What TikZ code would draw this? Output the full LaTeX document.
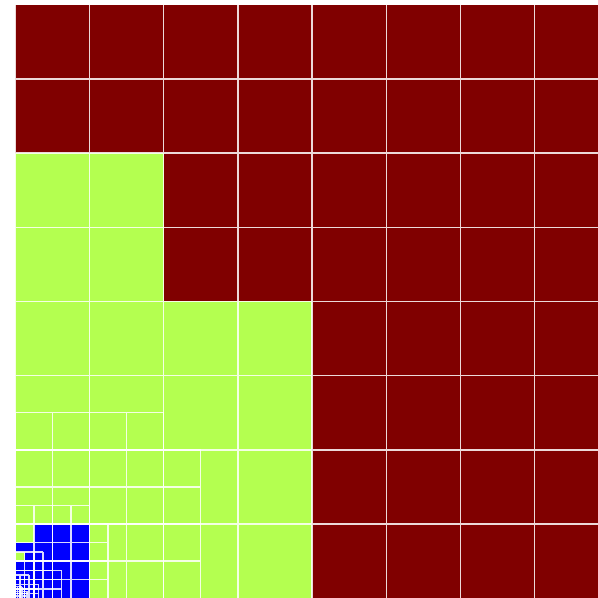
\documentclass[tikz,border=0pt]{standalone}
\definecolor{cellred}{RGB}{128,0,0}
\definecolor{cellgreen}{RGB}{180,255,80}
\definecolor{cellblue}{RGB}{0,0,255}
\begin{document}
\begin{tikzpicture}[x=1mm,y=1mm,
  gl/.style={draw=white, draw opacity=0.85, line width=0.45pt}]
\useasboundingbox (-1.644,0.13) rectangle (62.83,64.5);
\fill[white] (-1.644,0.13) rectangle (62.83,64.5);
\clip (-1.644,0.13) rectangle (62.83,64.5);
% colour regions
\fill[cellred] (0,0) rectangle (64,64);
\fill[cellgreen] (0,0) rectangle (32,32);
\fill[cellgreen] (0,32) rectangle (16,48);
\fill[cellblue] (0,0) rectangle (8,8);
\fill[cellgreen] (0,6) rectangle (2,8);
\fill[cellgreen] (0,4) rectangle (1,5);
% level 0
\draw[gl,step=8] (0,0) grid (64,64);
% level 1
\draw[gl,step=4] (0,0) grid (20.01,16.01);
\draw[gl,step=4] (0,16) grid (16.01,20.01);
% level 2
\draw[gl,step=2] (0,0) grid (10.01,8.01);
\draw[gl,step=2] (0,8) grid (8.01,10.01);
% level 3
\draw[gl,step=1] (0,0) grid (5.01,3.01);
\draw[gl,step=1] (0,3) grid (4.01,4.01);
\draw[gl,step=1] (0,4) grid (3.01,5.01);
% level 4
\draw[gl,step=0.5] (0,0) grid (2.51,1.51);
\draw[gl,step=0.5] (0,1.5) grid (2.01,2.01);
\draw[gl,step=0.5] (0,2) grid (1.51,2.51);
% level 5
\draw[gl,step=0.25] (0,0) grid (1.26,0.76);
\draw[gl,step=0.25] (0,0.75) grid (1.01,1.01);
\draw[gl,step=0.25] (0,1) grid (0.76,1.26);
\end{tikzpicture}
\end{document}
